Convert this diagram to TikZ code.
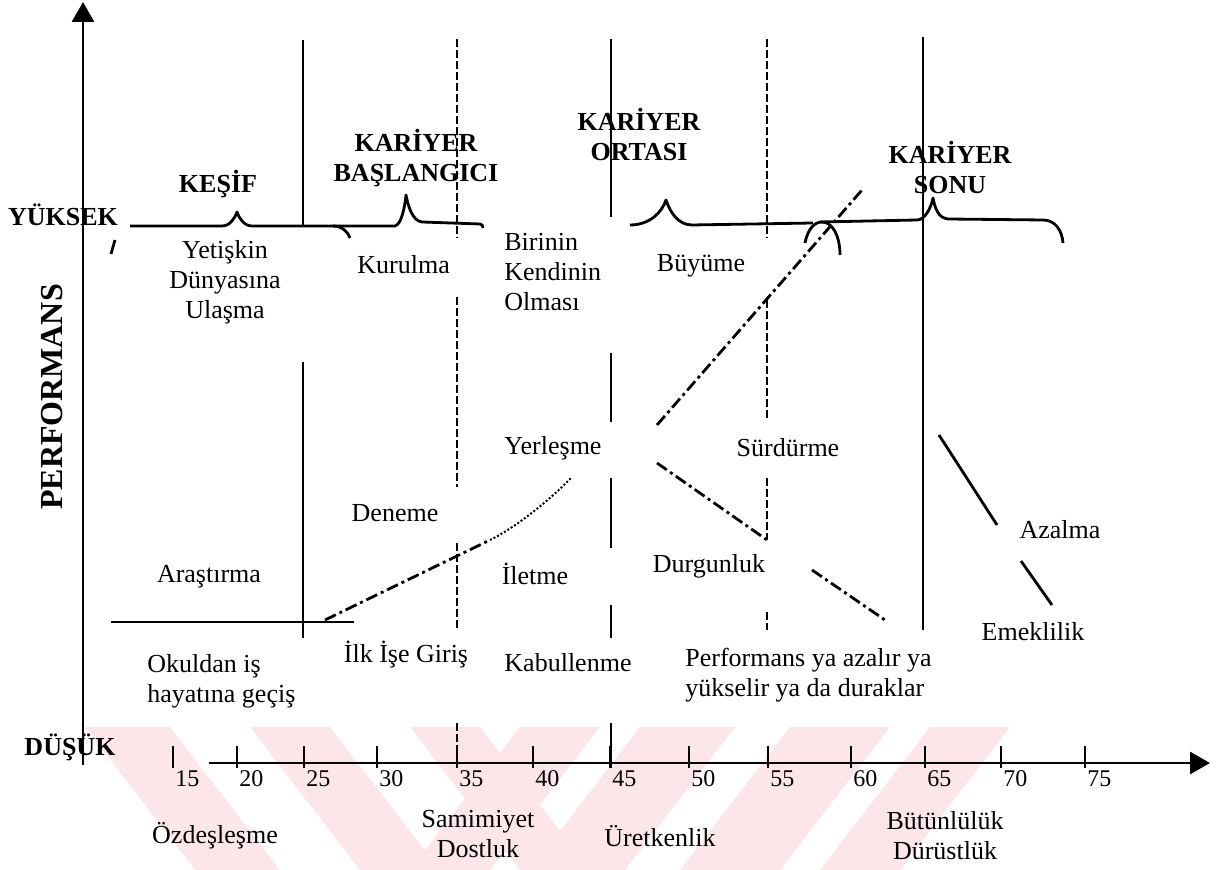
\documentclass[tikz,border=0pt]{standalone}
\usepackage{fontspec}
\setmainfont{Liberation Serif}
\usetikzlibrary{arrows.meta}
\definecolor{wmark}{RGB}{253,230,234}
\begin{document}
\begin{tikzpicture}[x=0.5pt,y=-0.5pt,line width=1.4pt,line join=round,
  txt/.style={font=\fontsize{13}{15}\selectfont,inner sep=0pt,align=center},
  hd/.style={txt,font=\fontsize{13}{15}\selectfont\bfseries},
  dsh/.style={dash pattern=on 4pt off 1.5pt},
  dshdot/.style={dash pattern=on 6pt off 2pt on 1.5pt off 2pt},
  axarrow/.style={-{Triangle[length=10pt,width=11pt]}}]
  \useasboundingbox (0,0) rectangle (1228,870);
  \fill[wmark] (85,727) -- (170,727) -- (280,870) -- (195,870) -- cycle;
  \fill[wmark] (250,727) -- (330,727) -- (440,870) -- (360,870) -- cycle;
  \fill[wmark] (410,727) -- (480,727) -- (590,870) -- (520,870) -- cycle;
  \fill[wmark] (520,727) -- (600,727) -- (490,870) -- (410,870) -- cycle;
  \fill[wmark] (640,727) -- (735,727) -- (625,870) -- (530,870) -- cycle;
  \fill[wmark] (790,727) -- (890,727) -- (780,870) -- (680,870) -- cycle;
  \fill[wmark] (930,727) -- (1010,727) -- (900,870) -- (820,870) -- cycle;
  \draw[axarrow] (83,765) -- (83,2);
  \draw[axarrow] (209,763) -- (1210,763);
  \foreach \tx/\age in {173/15,237/20,304/25,377/30,457/35,533/40,610/45,689/50,768/55,851/60,925/65,1001/70,1085/75} {
    \draw (\tx,746) -- (\tx,768);
    \node[txt,font=\fontsize{12}{14}\selectfont,anchor=west] (t\age) at (\tx+1,779) {\age};
  }
  \draw (303,40) -- (303,226) (303,362) -- (303,638);
  \draw (111,622) -- (354,622);
  \draw[dsh] (457,39) -- (457,238) (457,297) -- (457,487) (457,543) -- (457,628) (457,723) -- (457,763);
  \draw (611,39) -- (611,217) (611,353) -- (611,422) (611,478) -- (611,548) (611,605) -- (611,638) (611,723) -- (611,768);
  \draw[dsh] (767,39) -- (767,238) (767,300) -- (767,418) (767,478) -- (767,540) (767,612) -- (767,630);
  \draw (923,37) -- (923,630);
  \draw (130,226) -- (222,226) .. controls (230,226) and (235,218) .. (237,212)
    .. controls (239,218) and (244,226) .. (252,226) -- (333,226);
  \draw (115,240) -- (111,254);
  \draw (333,226) .. controls (342,226) and (348,232) .. (350,238);
  \draw (333,226) -- (395,226) .. controls (402,224) and (405,205) .. (406,195)
    .. controls (408,205) and (412,221) .. (422,222) -- (480,224) .. controls (482,224) and (483,226) .. (483,228);
  \draw (630,225) .. controls (650,225) and (662,212) .. (666,200)
    .. controls (670,212) and (678,225) .. (692,225) -- (813,223);
  \draw (805,243) .. controls (808,228) and (815,222) .. (822,222) .. controls (832,222) and (840,235) .. (840,255);
  \draw (820,222) -- (917,220) .. controls (925,220) and (931,208) .. (933,198)
    .. controls (935,208) and (938,218) .. (948,219) -- (1043,220) .. controls (1055,220) and (1062,230) .. (1063,243);
  \draw[dshdot] (325,620) -- (490,540);
  \draw[line width=1pt,densely dotted] (490,540) .. controls (515,528) and (550,500) .. (571,478);
  \draw[dshdot] (657,425) -- (862,190);
  \draw[dshdot] (657,463) -- (767,540);
  \draw[dshdot] (812,570) -- (885,620);
  \draw (939,435) -- (997,525) (1021,561) -- (1052,605);
  \node[hd] (yuksek) at (63,215) {YÜKSEK};
  \node[hd] (dusuk) at (70,747) {DÜŞÜK};
  \node[hd,font=\fontsize{16}{18}\selectfont\bfseries,rotate=90] (perf) at (52,397) {PERFORMANS};
  \node[hd] (kesif) at (218,184) {KEŞİF};
  \node[hd] (basla) at (416,158) {KARİYER\\BAŞLANGICI};
  \node[hd] (orta) at (639,134) {KARİYER\\ORTASI};
  \node[hd] (sonu) at (950,167) {KARİYER\\SONU};
  \node[txt] (yetiskin) at (225,282) {Yetişkin\\Dünyasına\\Ulaşma};
  \node[txt,anchor=west] (kurulma) at (356,265) {Kurulma};
  \node[txt,align=left,anchor=west] (birinin) at (503,272) {Birinin\\Kendinin\\Olması};
  \node[txt] (buyume) at (701,266) {Büyüme};
  \node[txt] (yerlesme) at (553,448) {Yerleşme};
  \node[txt] (surdurme) at (788,448) {Sürdürme};
  \node[txt] (deneme) at (395,513) {Deneme};
  \node[txt] (arastirma) at (209,577) {Araştırma};
  \node[txt] (iletme) at (535,574) {İletme};
  \node[txt] (durgunluk) at (709,566) {Durgunluk};
  \node[txt] (azalma) at (1060,530) {Azalma};
  \node[txt] (emeklilik) at (1033,632) {Emeklilik};
  \node[txt,align=left,anchor=west] (okuldan) at (146,681) {Okuldan iş\\hayatına geçiş};
  \node[txt] (ilkis) at (406,655) {İlk İşe Giriş};
  \node[txt] (kabul) at (568,663) {Kabullenme};
  \node[txt,align=left,anchor=west] (perfya) at (684,675) {Performans ya azalır ya\\yükselir ya da duraklar};
  \node[txt] (ozdes) at (215,836) {Özdeşleşme};
  \node[txt] (samimi) at (478,834) {Samimiyet\\Dostluk};
  \node[txt] (uretken) at (660,836) {Üretkenlik};
  \node[txt] (butun) at (945,836) {Bütünlülük\\Dürüstlük};
\end{tikzpicture}
\end{document}
